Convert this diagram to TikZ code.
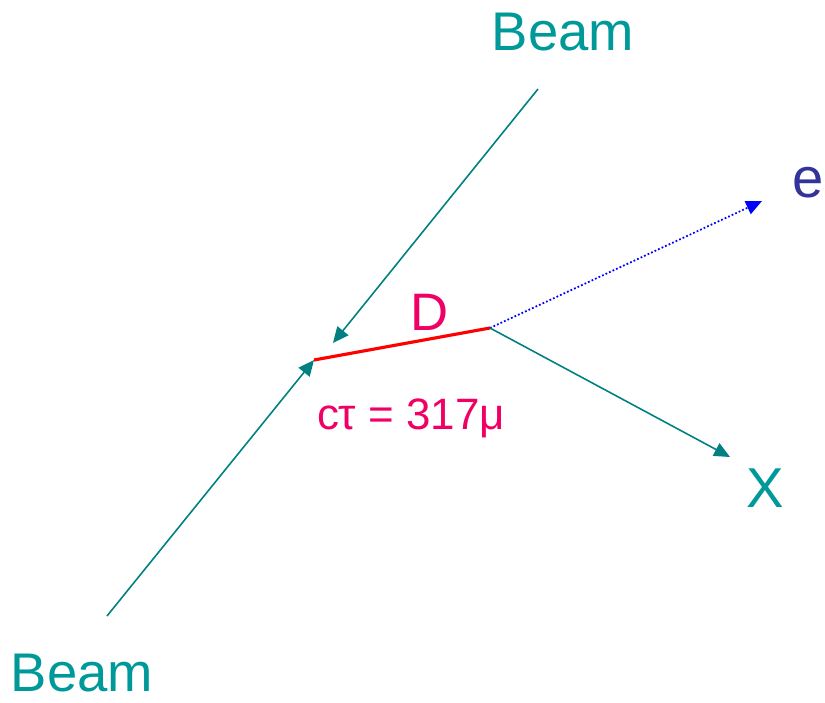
\documentclass[tikz,border=0pt]{standalone}
\usepackage{fontspec}
\setmainfont{Liberation Sans}
\usetikzlibrary{arrows.meta}
\definecolor{beamcol}{RGB}{0,128,128}
\definecolor{beamtxt}{RGB}{0,153,153}
\definecolor{dcol}{RGB}{240,0,100}
\definecolor{ecol}{RGB}{51,51,153}
\tikzset{
  beam/.style={draw=beamcol,line width=0.9pt},
  lbl/.style={inner sep=0pt,font=\fontsize{31}{34}\selectfont},
}
\begin{document}
\begin{tikzpicture}[x=0.02cm,y=-0.02cm,>={Triangle[length=9pt,width=8pt]}]
  \useasboundingbox (0,0) rectangle (825,703);
  % end points
  \coordinate (bt) at (538,89);
  \coordinate (bb) at (107,616);
  \coordinate (v1) at (314,360);
  \coordinate (v2) at (490,328);
  \coordinate (ve) at (762,201);
  \coordinate (vx) at (730,457);
  \coordinate (vt) at (333,343);
  % labels
  \node[lbl,text=beamtxt] (beamtop) at (563,32) {Beam};
  \node[lbl,text=beamtxt] (beambot) at (82,673) {Beam};
  \node[lbl,text=dcol,font=\fontsize{30}{32}\selectfont] (dlab) at (430,312) {D};
  \node[inner sep=0pt,text=dcol,font=\fontsize{25}{28}\selectfont] (ctau) at (411,418) {cτ = 317μ};
  \node[lbl,text=ecol,font=\fontsize{32}{34}\selectfont] (elab) at (808,183) {e};
  \node[lbl,text=beamtxt,font=\fontsize{32}{34}\selectfont] (xlab) at (765,488) {X};
  % tracks
  \draw[beam,->] (bt)--(vt);
  \draw[beam,->] (bb)--(v1);
  \draw[red,line width=1.8pt] (v1)--(v2);
  \draw[blue,line width=1pt,dash pattern=on 1pt off 1.2pt,->] (v2)--(ve);
  \draw[beam,->] (v2)--(vx);
\end{tikzpicture}
\end{document}
